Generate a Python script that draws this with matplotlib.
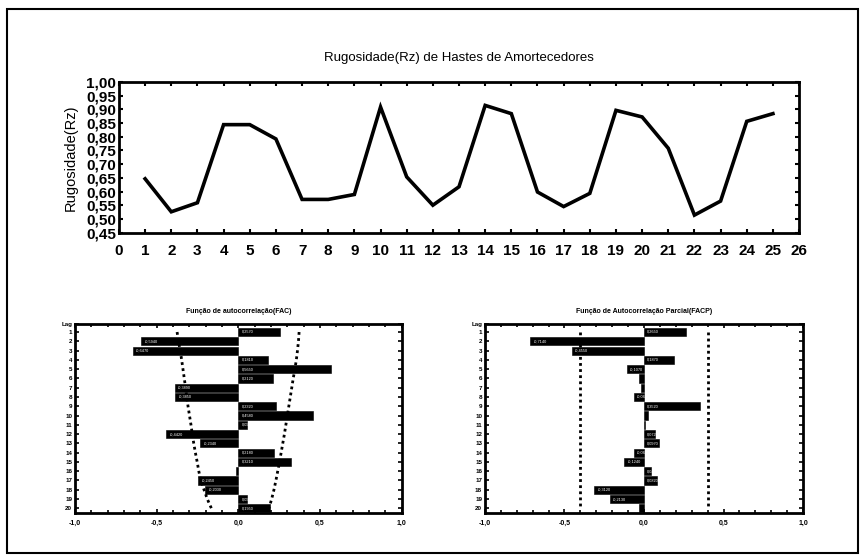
import matplotlib
matplotlib.use("Agg")
import matplotlib.pyplot as plt
from matplotlib.patches import Rectangle
from matplotlib.ticker import MultipleLocator

plt.rcParams['font.family'] = ['Liberation Sans', 'DejaVu Sans']

# ---- data ----
samples = list(range(1, 26))
rz = [0.647, 0.527, 0.560, 0.844, 0.844, 0.792, 0.572, 0.572, 0.590, 0.908,
      0.654, 0.551, 0.618, 0.914, 0.884, 0.599, 0.546, 0.594, 0.896, 0.872,
      0.758, 0.515, 0.566, 0.856, 0.884]

lags = list(range(1, 21))
fac = [0.257, -0.594, -0.647, 0.181, 0.565, 0.212, -0.389, -0.385, 0.232, 0.458,
       0.053, -0.442, -0.234, 0.218, 0.321, -0.015, -0.245, -0.203, 0.051, 0.195]
fac_lower = [-0.375, -0.366, -0.356, -0.347, -0.339, -0.331, -0.323, -0.316, -0.308, -0.299,
             -0.290, -0.282, -0.273, -0.263, -0.252, -0.242, -0.230, -0.210, -0.190, -0.165]
fac_upper = [0.372, 0.368, 0.362, 0.355, 0.346, 0.336, 0.327, 0.318, 0.309, 0.300,
             0.291, 0.282, 0.272, 0.262, 0.252, 0.241, 0.230, 0.218, 0.204, 0.187]

facp = [0.265, -0.714, -0.455, 0.187, -0.107, -0.030, -0.017, -0.063, 0.352, 0.027,
        0.005, 0.072, 0.097, -0.065, -0.124, 0.044, 0.082, -0.312, -0.213, -0.032]
facp_lower = [-0.40] * 20
facp_upper = [0.40] * 20

title_top = "Rugosidade(Rz) de Hastes de Amortecedores"
ylabel_top = "Rugosidade(Rz)"
title_fac = "Função de autocorrelação(FAC)"
title_facp = "Função de Autocorrelação Parcial(FACP)"
y_ticks_top = [0.45, 0.50, 0.55, 0.60, 0.65, 0.70, 0.75, 0.80, 0.85, 0.90, 0.95, 1.00]
y_ticklabels_top = ["0,45", "0,50", "0,55", "0,60", "0,65", "0,70", "0,75", "0,80",
                    "0,85", "0,90", "0,95", "1,00"]
x_ticks_top = list(range(27))
x_ticks_small = [-1.0, -0.5, 0.0, 0.5, 1.0]
x_ticklabels_small = ["-1,0", "-0,5", "0,0", "0,5", "1,0"]

fig = plt.figure(figsize=(8.62, 5.60), dpi=100)
fig.patches.append(Rectangle((7/862, 1-553/560), 851/862, 544/560, transform=fig.transFigure,
                             fill=False, edgecolor='black', linewidth=1.5))

# ---- top chart ----
ax = fig.add_axes([0.138, 0.584, 0.789, 0.270])
ax.plot(samples, rz, color='black', linewidth=2.6, solid_joinstyle='miter')
ax.set_xlim(0, 26)
ax.set_ylim(0.45, 1.00)
ax.set_yticks(y_ticks_top)
ax.set_yticklabels(y_ticklabels_top, fontsize=11, fontweight='bold')
ax.set_xticks(x_ticks_top)
ax.set_xticklabels([str(i) for i in x_ticks_top], fontsize=11, fontweight='bold')
ax.tick_params(direction='in', top=True, right=True, length=3, width=1.5)
ax.tick_params(axis='x', pad=8)
ax.tick_params(axis='y', pad=2)
for s in ax.spines.values():
    s.set_linewidth(2)
ax.set_ylabel(ylabel_top, fontsize=10.5, labelpad=6)
ax.set_title(title_top, fontsize=9.5, pad=15)

# ---- lower panels ----
def acf_panel(rect, vals, lo, hi, title):
    a = fig.add_axes(rect)
    a.barh(lags, vals, height=0.88, color='black', edgecolor='black', linewidth=0.4)
    for lg, v in zip(lags, vals):
        if abs(v) > 0.04:
            txt = f"{v:.4f}".replace('.', ',')
            x0 = 0.02 if v > 0 else v + 0.02
            a.text(x0, lg, txt, color='white', fontsize=2.8, va='center', ha='left')
    a.plot(lo, lags, linestyle=(0, (1, 1.2)), color='black', linewidth=2.0)
    a.plot(hi, lags, linestyle=(0, (1, 1.2)), color='black', linewidth=2.0)
    a.set_xlim(-1.0, 1.0)
    a.set_ylim(20.5, 0.1)
    a.set_yticks([0.1] + lags)
    a.set_yticklabels(["Lag"] + [str(l) for l in lags], fontsize=4.5, fontweight='bold')
    a.set_xticks(x_ticks_small)
    a.set_xticklabels(x_ticklabels_small, fontsize=5, fontweight='bold')
    a.xaxis.set_minor_locator(MultipleLocator(0.1))
    a.tick_params(which='both', direction='in', top=True, right=True, width=1.2)
    a.tick_params(which='major', length=3)
    a.tick_params(which='minor', length=2)
    a.tick_params(axis='x', pad=5)
    a.tick_params(axis='y', pad=2)
    for s in a.spines.values():
        s.set_linewidth(2)
    a.set_title(title, fontsize=5, fontweight='bold', pad=8)
    return a

acf_panel([0.087, 0.084, 0.379, 0.338], fac, fac_lower, fac_upper, title_fac)
acf_panel([0.5626, 0.084, 0.369, 0.338], facp, facp_lower, facp_upper, title_facp)

fig.savefig("out.png", dpi=100)
